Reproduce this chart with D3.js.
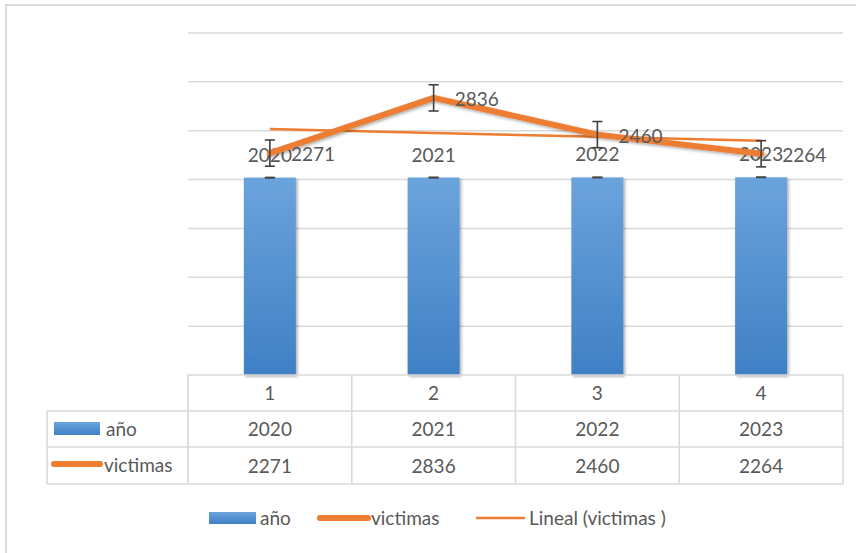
<!DOCTYPE html>
<html>
<head>
<meta charset="utf-8">
<script src="https://cdn.jsdelivr.net/npm/d3@7"></script>
<style>
  body { margin: 0; background: #fff; }
  text { font-family: Lato, "Open Sans", sans-serif; fill: #595959; }
</style>
</head>
<body>
<svg id="chart" width="856" height="553"></svg>
<script>
// data
var categories = [1, 2, 3, 4];
var anio = [2020, 2021, 2022, 2023];
var victimas = [2271, 2836, 2460, 2264];
var yTicks = [0, 500, 1000, 1500, 2000, 2500, 3000, 3500];
var seriesNames = ["año", "victimas"];
var trendName = "Lineal (victimas )";

var blue = "#5b9bd5", orange = "#ed7d31", grid = "#d9d9d9";
var fs = "19px";

var svg = d3.select("#chart");

var defs = svg.append("defs");
var grad = defs.append("linearGradient")
    .attr("id", "barGrad").attr("x1", 0).attr("y1", 0).attr("x2", 0).attr("y2", 1);
grad.append("stop").attr("offset", "0%").attr("stop-color", "#6ba3dc");
grad.append("stop").attr("offset", "100%").attr("stop-color", "#3f80c5");
var sh = defs.append("filter").attr("id", "shadow")
    .attr("x", "-20%").attr("y", "-20%").attr("width", "140%").attr("height", "140%");
sh.append("feDropShadow").attr("dx", 1.5).attr("dy", 1.5).attr("stdDeviation", 1.5)
    .attr("flood-color", "#000").attr("flood-opacity", 0.35);

// outer border
svg.append("rect")
    .attr("x", 6).attr("y", 5).attr("width", 870).attr("height", 570)
    .attr("fill", "none").attr("stroke", grid).attr("stroke-width", 2);

var x = d3.scaleBand().domain(categories).range([188, 843]);
var y = d3.scaleLinear().domain([0, 3500]).range([375, 33]);

// gridlines
svg.append("g").selectAll("line")
    .data(yTicks.slice(1))
    .enter().append("line")
    .attr("x1", 188).attr("x2", 843)
    .attr("y1", function(d) { return y(d); })
    .attr("y2", function(d) { return y(d); })
    .attr("stroke", grid).attr("stroke-width", 1.5);

function stdErr(arr) {
  var m = d3.mean(arr), n = arr.length;
  var v = d3.sum(arr, function(d) { return (d - m) * (d - m); }) / (n - 1);
  return Math.sqrt(v) / Math.sqrt(n);
}

var barW = 52;
var cx = function(i) { return x(categories[i]) + x.bandwidth() / 2; };

// bars
svg.append("g").selectAll("rect")
    .data(anio)
    .enter().append("rect")
    .attr("x", function(d, i) { return cx(i) - barW / 2; })
    .attr("y", function(d) { return y(d); })
    .attr("width", barW)
    .attr("height", function(d) { return y(0) - y(d); })
    .attr("fill", "url(#barGrad)")
    .attr("filter", "url(#shadow)");

function errorBars(g, data, se) {
  var eb = g.selectAll("g").data(data).enter().append("g");
  eb.append("line")
      .attr("x1", function(d, i) { return cx(i); })
      .attr("x2", function(d, i) { return cx(i); })
      .attr("y1", function(d) { return y(d + se); })
      .attr("y2", function(d) { return y(d - se); });
  [1, -1].forEach(function(s) {
    eb.append("line")
        .attr("x1", function(d, i) { return cx(i) - 5; })
        .attr("x2", function(d, i) { return cx(i) + 5; })
        .attr("y1", function(d) { return y(d + s * se); })
        .attr("y2", function(d) { return y(d + s * se); });
  });
  eb.selectAll("line").attr("stroke", "#404040").attr("stroke-width", 1.6);
}

errorBars(svg.append("g"), anio, stdErr(anio));

// bar labels
svg.append("g").selectAll("text")
    .data(anio)
    .enter().append("text")
    .attr("x", function(d, i) { return cx(i); })
    .attr("y", function(d) { return y(d) - 16; })
    .attr("text-anchor", "middle")
    .style("font-size", fs)
    .text(function(d) { return d; });

// trendline (least squares on 1..n)
var xm = d3.mean(categories), ym = d3.mean(victimas);
var slope = d3.sum(categories, function(c, i) { return (c - xm) * (victimas[i] - ym); }) /
            d3.sum(categories, function(c) { return (c - xm) * (c - xm); });
var trend = categories.map(function(c) { return ym + slope * (c - xm); });

var line = d3.line()
    .x(function(d, i) { return cx(i); })
    .y(function(d) { return y(d); });

svg.append("path")
    .datum(trend)
    .attr("d", line)
    .attr("fill", "none").attr("stroke", orange).attr("stroke-width", 2.5);

svg.append("path")
    .datum(victimas)
    .attr("d", line)
    .attr("fill", "none").attr("stroke", orange).attr("stroke-width", 6)
    .attr("stroke-linecap", "round").attr("stroke-linejoin", "round")
    .attr("filter", "url(#shadow)");

errorBars(svg.append("g"), victimas, stdErr(victimas));

svg.append("g").selectAll("text")
    .data(victimas)
    .enter().append("text")
    .attr("x", function(d, i) { return cx(i) + 21; })
    .attr("y", function(d) { return y(d) + 8; })
    .style("font-size", fs)
    .text(function(d) { return d; });

// data table
var tbl = svg.append("g").attr("stroke", grid).attr("stroke-width", 1.6).attr("fill", "none");
var rowY = [375, 411, 447, 484];
tbl.append("line").attr("x1", 188).attr("x2", 843).attr("y1", rowY[0]).attr("y2", rowY[0]);
rowY.slice(1).forEach(function(ry) {
  tbl.append("line").attr("x1", 47).attr("x2", 843).attr("y1", ry).attr("y2", ry);
});
tbl.append("line").attr("x1", 47).attr("x2", 47).attr("y1", rowY[1]).attr("y2", rowY[3]);
categories.forEach(function(c) {
  tbl.append("line").attr("x1", x(c)).attr("x2", x(c)).attr("y1", rowY[0]).attr("y2", rowY[3]);
});
tbl.append("line").attr("x1", 843).attr("x2", 843).attr("y1", rowY[0]).attr("y2", rowY[3]);

var rows = [categories, anio, victimas];
rows.forEach(function(r, ri) {
  svg.append("g").selectAll("text")
      .data(r)
      .enter().append("text")
      .attr("x", function(d, i) { return cx(i); })
      .attr("y", (rowY[ri] + rowY[ri + 1]) / 2 + 7)
      .attr("text-anchor", "middle")
      .style("font-size", fs)
      .text(function(d) { return d; });
});

// table legend keys
svg.append("rect").attr("x", 54).attr("y", 422).attr("width", 46).attr("height", 13)
    .attr("fill", "url(#barGrad)");
svg.append("text").attr("x", 106).attr("y", 436).style("font-size", fs).text(seriesNames[0]);
svg.append("line").attr("x1", 54).attr("x2", 100).attr("y1", 464).attr("y2", 464)
    .attr("stroke", orange).attr("stroke-width", 6).attr("stroke-linecap", "round");
svg.append("text").attr("x", 104).attr("y", 472).style("font-size", fs).text(seriesNames[1]);

// bottom legend
var lg = svg.append("g");
lg.append("rect").attr("x", 209).attr("y", 512).attr("width", 47).attr("height", 12)
    .attr("fill", "url(#barGrad)");
lg.append("text").attr("x", 260).attr("y", 525).style("font-size", fs).text(seriesNames[0]);
lg.append("line").attr("x1", 320).attr("x2", 368).attr("y1", 518).attr("y2", 518)
    .attr("stroke", orange).attr("stroke-width", 6).attr("stroke-linecap", "round");
lg.append("text").attr("x", 371).attr("y", 525).style("font-size", fs).text(seriesNames[1]);
lg.append("line").attr("x1", 476).attr("x2", 525).attr("y1", 518).attr("y2", 518)
    .attr("stroke", orange).attr("stroke-width", 2.5);
lg.append("text").attr("x", 529).attr("y", 525).style("font-size", fs).text(trendName);
</script>
</body>
</html>
